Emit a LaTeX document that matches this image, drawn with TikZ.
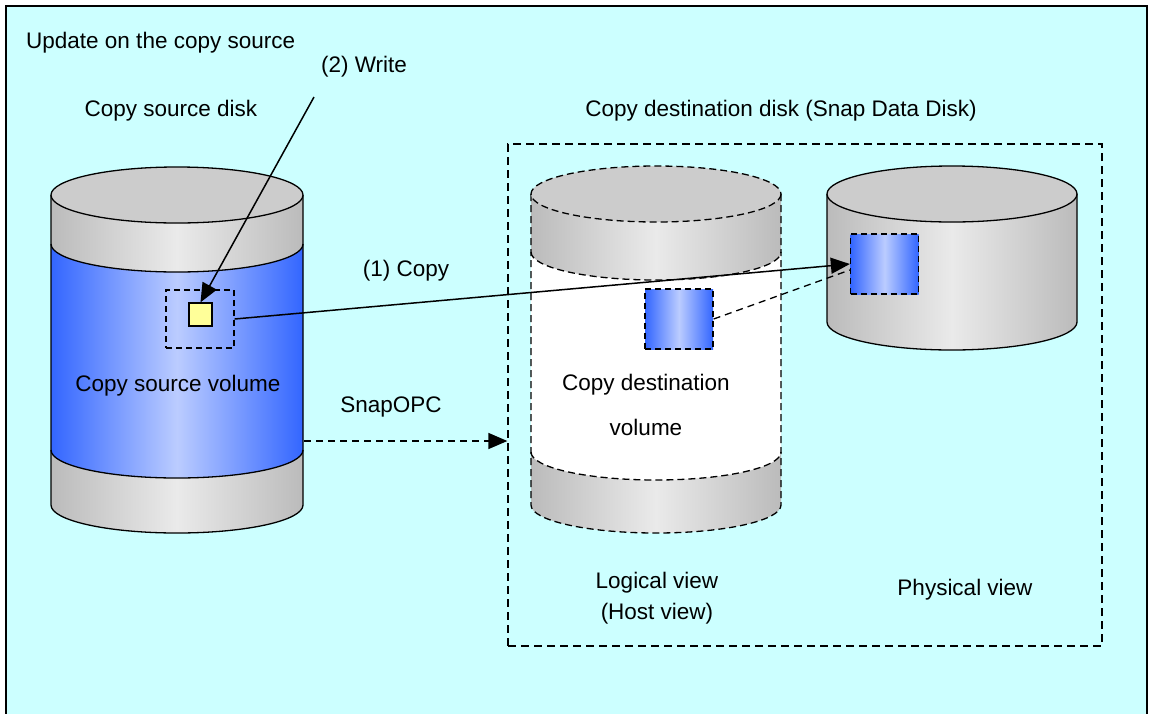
\documentclass[tikz,border=0pt]{standalone}
\usepackage{fontspec}
\setmainfont{Liberation Sans}
\usetikzlibrary{arrows.meta,calc}
\definecolor{bgc}{HTML}{CCFFFF}
\definecolor{gedge}{HTML}{BBBBBB}
\definecolor{gmid}{HTML}{EAEAEA}
\definecolor{gtop}{HTML}{CCCCCC}
\definecolor{bedge}{HTML}{3366FF}
\definecolor{bmid}{HTML}{BBCCFF}
\definecolor{ylw}{HTML}{FFFF99}
\tikzset{
  lbl/.style={font=\fontsize{22.5}{27}\selectfont, inner sep=0pt, anchor=base},
  greyshade/.style={left color=gedge, right color=gedge, middle color=gmid},
  blueshade/.style={left color=bedge, right color=bedge, middle color=bmid},
  outl/.style={draw=black, line width=1.3pt},
  dsh/.style={dash pattern=on 7pt off 4pt},
  arr/.style={line width=1.5pt, -{Triangle[length=19pt,width=16pt]}},
  bluebox/.style={draw, line width=1.3pt, dash pattern=on 6pt off 4pt, blueshade, inner sep=0pt, minimum width=68pt, minimum height=60pt},
}
\begin{document}
\begin{tikzpicture}[x=1pt,y=-1pt]
\useasboundingbox (0,0) rectangle (1152,713);
% background frame
\fill[bgc] (6,6) rectangle (1147,720);
\draw[line width=1.5pt] (6,720) -- (6,6) -- (1147,6) -- (1147,720);

% ---- copy source cylinder
\path[greyshade] (51,195) -- (51,505) arc[start angle=180,end angle=0,x radius=126,y radius=28] -- (303,195) -- cycle;
\path[blueshade] (51,244) arc[start angle=180,end angle=0,x radius=126,y radius=28] -- (303,450) arc[start angle=0,end angle=180,x radius=126,y radius=28] -- cycle;
\draw[outl] (51,244) arc[start angle=180,end angle=0,x radius=126,y radius=28];
\draw[outl] (51,450) arc[start angle=180,end angle=0,x radius=126,y radius=28];
\draw[outl] (51,195) -- (51,505) arc[start angle=180,end angle=0,x radius=126,y radius=28] -- (303,195);
\draw[outl, fill=gtop] (177,195) ellipse[x radius=126,y radius=28];

% ---- logical (copy destination) cylinder
\path[greyshade] (531,194) -- (531,505) arc[start angle=180,end angle=0,x radius=125,y radius=28] -- (781,194) -- cycle;
\path[fill=white] (531,252) arc[start angle=180,end angle=0,x radius=125,y radius=28] -- (781,452) arc[start angle=0,end angle=180,x radius=125,y radius=28] -- cycle;
\draw[outl,dsh] (531,252) arc[start angle=180,end angle=0,x radius=125,y radius=28];
\draw[outl,dsh] (531,452) arc[start angle=180,end angle=0,x radius=125,y radius=28];
\draw[outl,dsh] (531,194) -- (531,505) arc[start angle=180,end angle=0,x radius=125,y radius=28] -- (781,194);
\draw[outl,dsh, fill=gtop] (656,194) ellipse[x radius=125,y radius=28];

% ---- physical cylinder
\path[greyshade] (827,194) -- (827,322) arc[start angle=180,end angle=0,x radius=125,y radius=28] -- (1077,194) -- cycle;
\draw[outl] (827,194) -- (827,322) arc[start angle=180,end angle=0,x radius=125,y radius=28] -- (1077,194);
\draw[outl, fill=gtop] (952,194) ellipse[x radius=125,y radius=28];

% ---- dashed group box
\node[draw, line width=1.3pt, dash pattern=on 8pt off 5pt, inner sep=0pt, minimum width=594pt, minimum height=502pt] (dbox) at (805,395) {};

% ---- small boxes
\node[draw, line width=1.3pt, dash pattern=on 6pt off 4pt, inner sep=0pt, minimum width=68pt, minimum height=58pt] (dsq) at (200,319) {};
\node[draw, line width=1.3pt, fill=ylw, inner sep=0pt, minimum size=23pt] (ysq) at (200.5,314.5) {};
\node[bluebox] (lbox) at (679,319) {};
\node[bluebox] (pbox) at (884.5,264) {};

% ---- connectors
\coordinate (wstart) at (314,97);
\coordinate (snapA) at (304,441);
\draw[arr] (wstart) -- (ysq.north);
\draw[arr] (dsq.east) -- (pbox.west);
\draw[line width=1.3pt, dash pattern=on 7pt off 5pt] (lbox.east) -- ([yshift=-6pt]pbox.west);
\draw[arr, dash pattern=on 7pt off 5pt] (snapA) -- (dbox.west |- snapA);

% ---- texts
\node[lbl, anchor=base west] (t1) at (26,48) {Update on the copy source};
\node[lbl] (t2) at (364,72) {(2) Write};
\node[lbl] (t3) at (171,116) {Copy source disk};
\node[lbl] (t4) at (781,116) {Copy destination disk (Snap Data Disk)};
\node[lbl] (t5) at (406,276) {(1) Copy};
\node[lbl] (t6) at (391,412) {SnapOPC};
\node[lbl] (t7) at (178,391) {Copy source volume};
\node[lbl] (t8) at (646,390) {Copy destination};
\node[lbl] (t9) at (646,435) {volume};
\node[lbl] (t10) at (657,588) {Logical view};
\node[lbl] (t11) at (657,619) {(Host view)};
\node[lbl] (t12) at (965,595) {Physical view};
\end{tikzpicture}
\end{document}
